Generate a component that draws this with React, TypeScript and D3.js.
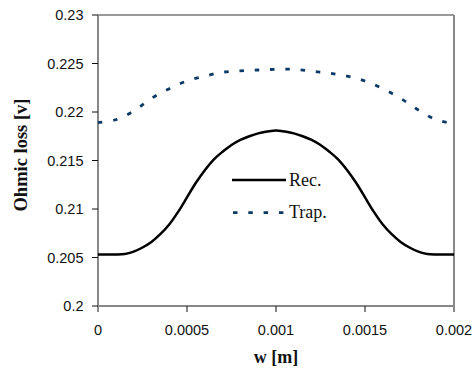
import React from "react";
import * as d3 from "d3";

const recW = [0, 0.00005, 0.0001, 0.00015, 0.0002, 0.00025, 0.0003, 0.00035, 0.0004, 0.00045, 0.0005, 0.00055, 0.0006, 0.00065, 0.0007, 0.00075, 0.0008, 0.00085, 0.0009, 0.00095, 0.001, 0.00105, 0.0011, 0.00115, 0.0012, 0.00125, 0.0013, 0.00135, 0.0014, 0.00145, 0.0015, 0.00155, 0.0016, 0.00165, 0.0017, 0.00175, 0.0018, 0.00185, 0.0019, 0.00195, 0.002];
const recValues = [0.2053, 0.2053, 0.2053, 0.20535, 0.2056, 0.20603, 0.2066, 0.2074, 0.2084, 0.2097, 0.2112, 0.2127, 0.214, 0.2151, 0.2159, 0.2166, 0.21712, 0.2175, 0.2178, 0.21798, 0.2181, 0.21798, 0.2178, 0.2175, 0.21712, 0.2166, 0.2159, 0.2151, 0.214, 0.2127, 0.2112, 0.2097, 0.2084, 0.2074, 0.2066, 0.20603, 0.2056, 0.20535, 0.2053, 0.2053, 0.2053];

const trapW = [0, 0.0001, 0.0002, 0.0003, 0.0004, 0.0005, 0.0006, 0.0007, 0.0008, 0.0009, 0.001, 0.0011, 0.0012, 0.0013, 0.0014, 0.0015, 0.0016, 0.0017, 0.0018, 0.0019, 0.002];
const trapValues = [0.2189, 0.2192, 0.2201, 0.2214, 0.2224, 0.2232, 0.2237, 0.2241, 0.22425, 0.22433, 0.2244, 0.2244, 0.2242, 0.224, 0.2237, 0.2232, 0.2224, 0.2214, 0.2202, 0.2192, 0.2188];

const xTicks = [0, 0.0005, 0.001, 0.0015, 0.002];
const xTickLabels = ["0", "0.0005", "0.001", "0.0015", "0.002"];
const yTicks = [0.2, 0.205, 0.21, 0.215, 0.22, 0.225, 0.23];
const yTickLabels = ["0.2", "0.205", "0.21", "0.215", "0.22", "0.225", "0.23"];
const seriesNames = ["Rec.", "Trap."];

export default function App() {
  const W = 474, H = 371;
  const left = 98, right = 454, top = 15, bottom = 306;
  const x = d3.scaleLinear().domain([0, 0.002]).range([left, right]);
  const y = d3.scaleLinear().domain([0.2, 0.23]).range([bottom, top]);
  const line = d3.line<[number, number]>().x(d => x(d[0])).y(d => y(d[1])).curve(d3.curveCatmullRom.alpha(0.5));
  const recPath = line(recW.map((w, i) => [w, recValues[i]]) as [number, number][]) || "";
  const trapPath = line(trapW.map((w, i) => [w, trapValues[i]]) as [number, number][]) || "";
  const sans = "'Liberation Sans', Arial, sans-serif";
  const serif = "'Liberation Serif', 'Times New Roman', serif";
  const navy = "#0b3a66";

  return (
    <svg width={W} height={H} style={{ position: "absolute", left: 0, top: 0, background: "#fff" }}>
      <rect x={0} y={0} width={W} height={H} fill="#fff" />
      {/* frame */}
      <line x1={left} x2={right} y1={top} y2={top} stroke="#333" strokeWidth={1} />
      <line x1={left} x2={right} y1={bottom} y2={bottom} stroke="#111" strokeWidth={1} />
      <line x1={left} x2={left} y1={top} y2={bottom + 6} stroke="#888" strokeWidth={2} />
      <line x1={right} x2={right} y1={top} y2={bottom + 6} stroke="#888" strokeWidth={2} />
      {/* y ticks */}
      {yTicks.map((t, i) => (
        <g key={"y" + i}>
          <line x1={left - 6} x2={left} y1={y(t)} y2={y(t)} stroke="#111" strokeWidth={1} />
          <text x={83.5} y={y(t)} dy="0.36em" textAnchor="end" fontFamily={sans} fontSize={14.5} fill="#111">{yTickLabels[i]}</text>
        </g>
      ))}
      {/* x ticks */}
      {xTicks.map((t, i) => (
        <g key={"x" + i}>
          {i > 0 && i < xTicks.length - 1 && (
            <line x1={x(t)} x2={x(t)} y1={bottom} y2={bottom + 6} stroke="#111" strokeWidth={1} />
          )}
          <text x={x(t)} y={335} textAnchor="middle" fontFamily={sans} fontSize={14.5} fill="#111">{xTickLabels[i]}</text>
        </g>
      ))}
      {/* series */}
      <path d={trapPath} fill="none" stroke={navy} strokeWidth={2.8} strokeDasharray="4.5,10.8" />
      <path d={recPath} fill="none" stroke="#000" strokeWidth={2.5} />
      {/* legend */}
      <line x1={232} x2={286} y1={180} y2={180} stroke="#000" strokeWidth={2.5} />
      <text x={289} y={186} fontFamily={serif} fontSize={18} fill="#111">{seriesNames[0]}</text>
      <line x1={233} x2={287} y1={212.7} y2={212.7} stroke={navy} strokeWidth={2.8} strokeDasharray="4.5,10.8" />
      <text x={289} y={218} fontFamily={serif} fontSize={18} fill="#111">{seriesNames[1]}</text>
      {/* axis titles */}
      <text x={276} y={363} textAnchor="middle" fontFamily={serif} fontWeight="bold" fontSize={18} fill="#111">w [m]</text>
      <text transform="translate(27,155) rotate(-90)" textAnchor="middle" fontFamily={serif} fontWeight="bold" fontSize={18.5} fill="#111">Ohmic loss [v]</text>
    </svg>
  );
}
